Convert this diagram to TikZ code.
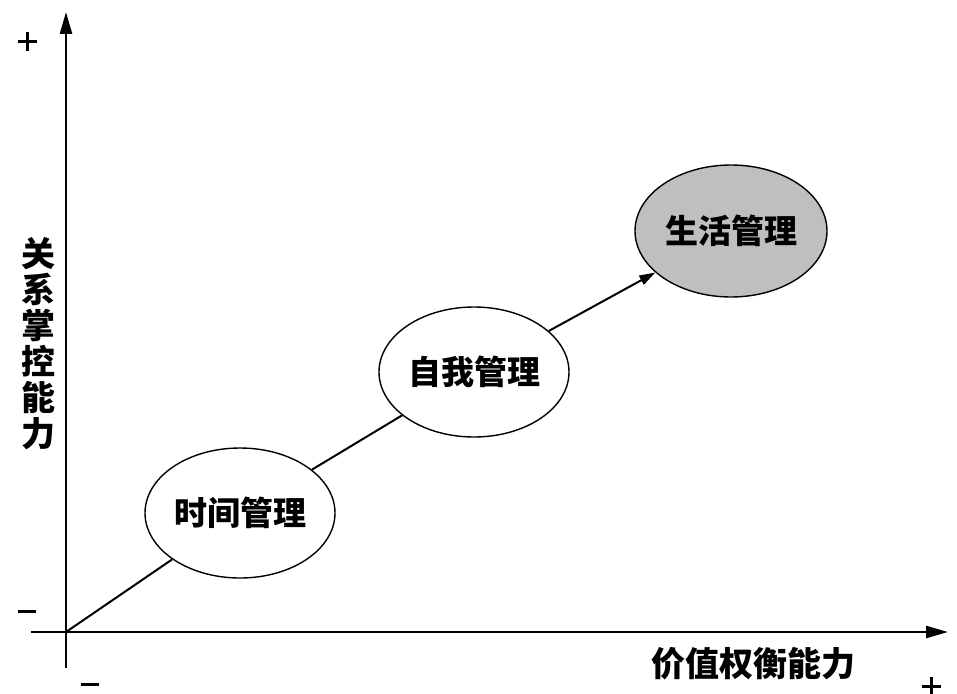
\documentclass[tikz,border=0pt]{standalone}
\usepackage{fontspec}
\newfontfamily\cjk{Noto Sans CJK SC}
\usetikzlibrary{arrows.meta,shapes.geometric}
\begin{document}
\begin{tikzpicture}[x=1pt,y=-1pt,
  axis/.style={line width=2.6pt,-{Triangle[length=22pt,width=12pt]}},
  bubble/.style={ellipse,draw,line width=1.4pt,minimum width=190pt,minimum height=130pt,inner sep=0pt,font=\cjk\bfseries\fontsize{33}{36}\selectfont},
  link/.style={line width=2pt},
  lbl/.style={font=\cjk\bfseries\fontsize{34}{38}\selectfont,inner sep=0pt},
  sign/.style={inner sep=0pt}]
\useasboundingbox (0,0) rectangle (957,693);
\coordinate (o) at (66,632);
\coordinate (ybot) at (66,668);
\coordinate (ytop) at (66,12);
\coordinate (xleft) at (31,632);
\coordinate (xright) at (948,632);
\draw[axis] (ybot) -- (ytop);
\draw[axis] (xleft) -- (xright);
\node[sign] (yplus) at (27,42) {\rule[8pt]{19pt}{3pt}\kern-11pt\rule{3pt}{19pt}\kern8pt};
\node[sign] (yminus) at (27,611) {\rule{18pt}{3pt}};
\node[sign] (xminus) at (90,684) {\rule{18pt}{3pt}};
\node[sign] (xplus) at (931,686) {\rule[8pt]{19pt}{3pt}\kern-11pt\rule{3pt}{19pt}\kern8pt};
\node[lbl,align=center] (ylab) at (38,344) {关\\[-2pt]系\\[-2pt]掌\\[-2pt]控\\[-2pt]能\\[-2pt]力};
\node[lbl] (xlab) at (753,664) {价值权衡能力};
\node[bubble] (e1) at (240,513) {时间管理};
\node[bubble] (e2) at (474,372) {自我管理};
\node[bubble,fill=gray!50,minimum width=192pt,minimum height=132pt] (e3) at (731,231) {生活管理};
\draw[link] (o) -- (e1);
\draw[link] (e1) -- (e2);
\draw[link,-{Triangle[length=16pt,width=10pt]}] (e2) -- (e3);
\end{tikzpicture}
\end{document}
